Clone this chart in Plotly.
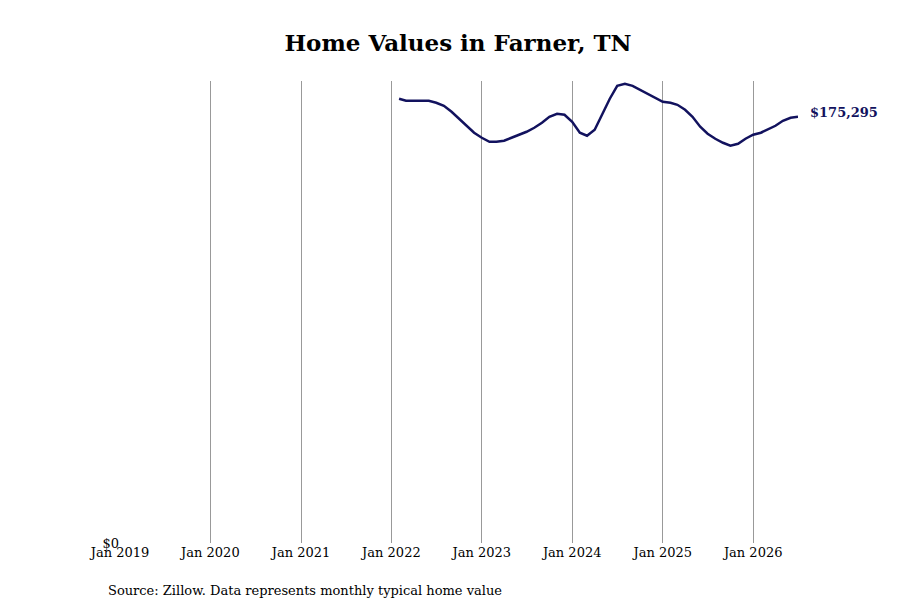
import plotly.graph_objects as go
import pandas as pd

dates = pd.date_range('2022-02-01', '2026-07-01', freq='MS')
values = [182700, 181850, 181850, 181850, 181850, 181030, 179800, 177340, 174460, 171590, 168720,
          166660, 165020, 165020, 165430, 166660, 167890, 169130, 170770, 172820, 175280, 176520, 176100,
          173230, 168720, 167480, 169950, 176100, 182700, 188010, 188830, 188010, 186370, 184730, 183080,
          181440, 181030, 180210, 178160, 175280, 171180, 168310, 166250, 164610, 163380, 164200, 166250,
          167890, 168720, 169950, 171590, 173640, 174870, 175295]
last_label = '$175,295'

fig = go.Figure()
fig.add_trace(go.Scatter(x=dates, y=values, mode='lines', line=dict(color='#12125e', width=2.5),
                         hoverinfo='x+y', showlegend=False))
fig.add_annotation(x=dates[-1], y=values[-1], text='<b>' + last_label + '</b>', showarrow=False,
                   xanchor='left', xshift=10, yshift=4, font=dict(color='#12125e', size=13))
fig.add_annotation(x=0.0, y=0, xref='paper', yref='paper', text='Source: Zillow. Data represents monthly typical home value',
                   showarrow=False, xanchor='left', yanchor='middle', xshift=-14, yshift=-47,
                   font=dict(size=13, color='black'))

fig.update_layout(
    width=900, height=600,
    plot_bgcolor='white', paper_bgcolor='white',
    font=dict(family='DejaVu Serif', size=13, color='black'),
    title=dict(text='<b>Home Values in Farner, TN</b>', x=0.5, xanchor='center', y=0.955, font=dict(size=23)),
    margin=dict(l=112, r=110, t=73, b=65),
    xaxis=dict(range=['2019-01-01', '2026-07-01'], dtick='M12', tick0='2019-01-01', tickformat='%b %Y',
               showgrid=True, gridcolor='#999999', gridwidth=1, zeroline=False, ticks='', showline=False,
               automargin=False),
    yaxis=dict(range=[0, 190000], tickvals=[0], ticktext=['$0'], showgrid=False, zeroline=False,
               showline=False, automargin=False, ticklabelstandoff=0),
)
fig.write_html("out.html")
